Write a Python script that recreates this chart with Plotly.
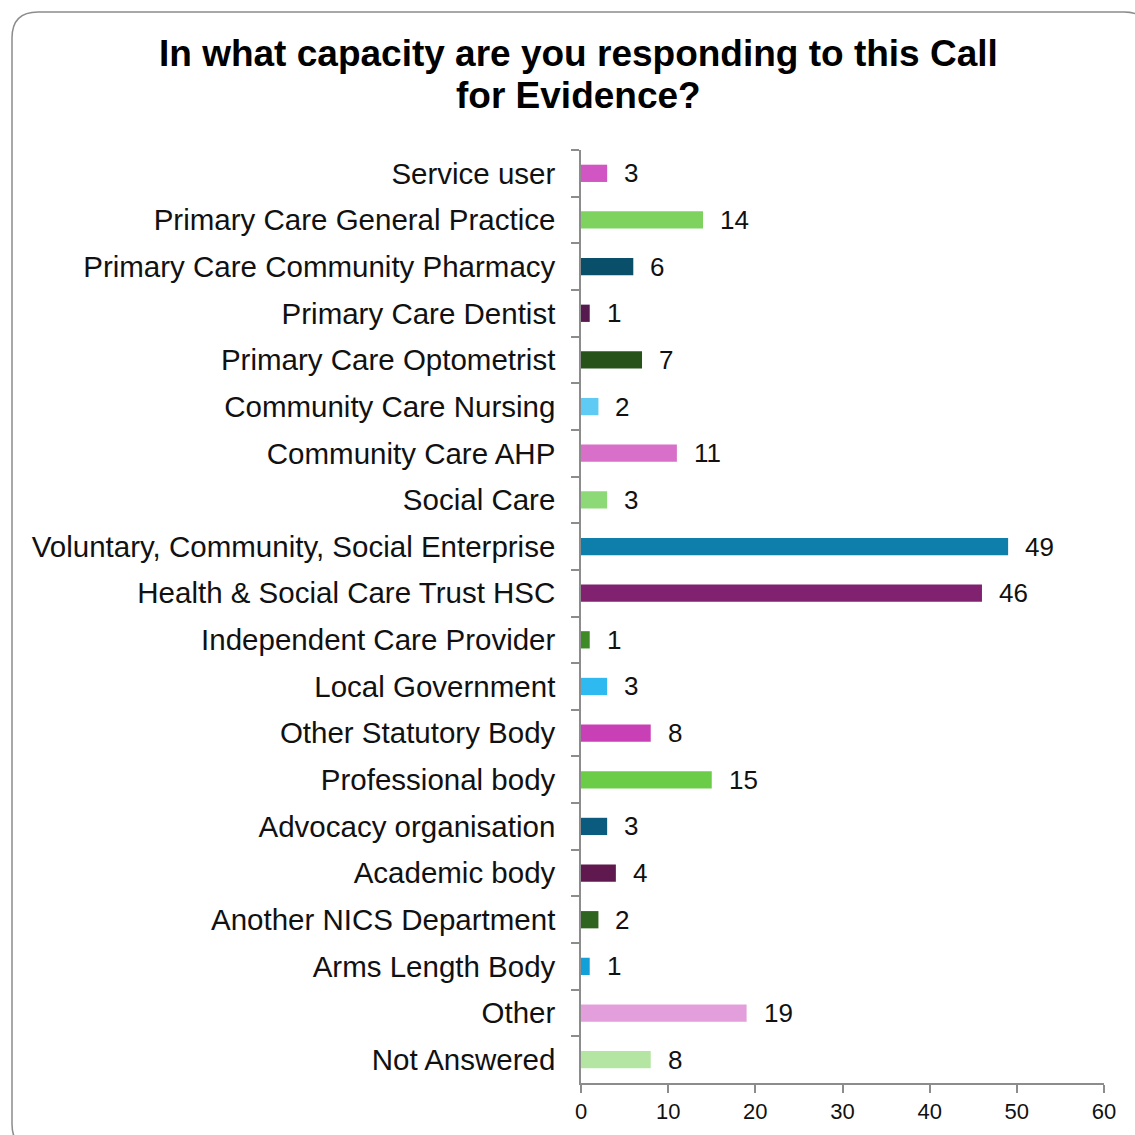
import plotly.graph_objects as go

categories = [
    "Service user", "Primary Care General Practice", "Primary Care Community Pharmacy",
    "Primary Care Dentist", "Primary Care Optometrist", "Community Care Nursing",
    "Community Care AHP", "Social Care", "Voluntary, Community, Social Enterprise",
    "Health & Social Care Trust HSC", "Independent Care Provider", "Local Government",
    "Other Statutory Body", "Professional body", "Advocacy organisation", "Academic body",
    "Another NICS Department", "Arms Length Body", "Other", "Not Answered",
]
values = [3, 14, 6, 1, 7, 2, 11, 3, 49, 46, 1, 3, 8, 15, 3, 4, 2, 1, 19, 8]
colors = [
    "#D155C2", "#7ED35E", "#0A4F6A", "#561A4E", "#27531A", "#5FCBF4", "#D86FC9",
    "#8ED977", "#0E7FAB", "#802270", "#3E8A26", "#2EBAF0", "#C940B6", "#6BCC47",
    "#0B5B7E", "#60194F", "#2F6320", "#11A0D8", "#E39FDB", "#B4E5A2",
]
x_ticks = [0, 10, 20, 30, 40, 50, 60]
title_lines = ["In what capacity are you responding to this Call", "for Evidence?"]

W, H = 1135, 1135
ML, MR, MT, MB = 581, 31, 150, 52
PW, PH = W - ML - MR, H - MT - MB

fig = go.Figure(go.Bar(
    x=values, y=categories, orientation="h",
    marker=dict(color=colors, line=dict(width=0)),
    width=0.37, hoverinfo="x+y",
))

for c, v in zip(categories, values):
    fig.add_annotation(x=v, y=c, text=str(v), showarrow=False, xanchor="left",
                       xshift=15, font=dict(size=26, color="#111111"))

def px(xp):
    return (xp - ML) / PW

def py(yp):
    return (H - MB - yp) / PH

for line, yc in zip(title_lines, [53, 96]):
    fig.add_annotation(xref="paper", yref="paper", x=px(578), y=py(yc),
                       xanchor="center", yanchor="middle", showarrow=False,
                       text=f"<b>{line}</b>", font=dict(size=37, color="#000000"))

r = 26
x0, y0, x1, y1 = 12, 12, 1150, 1150
path = (f"M {px(x0)},{py(y0 + r)} Q {px(x0)},{py(y0)} {px(x0 + r)},{py(y0)} "
        f"L {px(x1 - r)},{py(y0)} Q {px(x1)},{py(y0)} {px(x1)},{py(y0 + r)} "
        f"L {px(x1)},{py(y1 - r)} Q {px(x1)},{py(y1)} {px(x1 - r)},{py(y1)} "
        f"L {px(x0 + r)},{py(y1)} Q {px(x0)},{py(y1)} {px(x0)},{py(y1 - r)} Z")
fig.add_shape(type="path", xref="paper", yref="paper", path=path,
              line=dict(color="#8C8C8C", width=1.5), layer="below")

fig.update_layout(
    width=W, height=H,
    margin=dict(l=ML, r=MR, t=MT, b=MB),
    paper_bgcolor="white", plot_bgcolor="white",
    font=dict(family="Liberation Sans, Arial, sans-serif", color="#111111"),
    showlegend=False, bargap=0.6,
)
fig.update_xaxes(range=[0, 60], tickvals=x_ticks, showgrid=False, zeroline=False,
                 showline=True, linecolor="#8C8C8C", linewidth=1.5,
                 ticks="outside", ticklen=8, tickcolor="#8C8C8C", tickwidth=1.5,
                 tickfont=dict(size=22, color="#111111"))
fig.update_yaxes(autorange="reversed", showgrid=False, zeroline=False,
                 showline=True, linecolor="#8C8C8C", linewidth=1.5,
                 ticks="outside", ticklen=8, tickcolor="#8C8C8C", tickwidth=1.5,
                 tickson="boundaries", ticklabelstandoff=18,
                 tickfont=dict(size=29.5, color="#111111"))

fig.write_html("out.html")
